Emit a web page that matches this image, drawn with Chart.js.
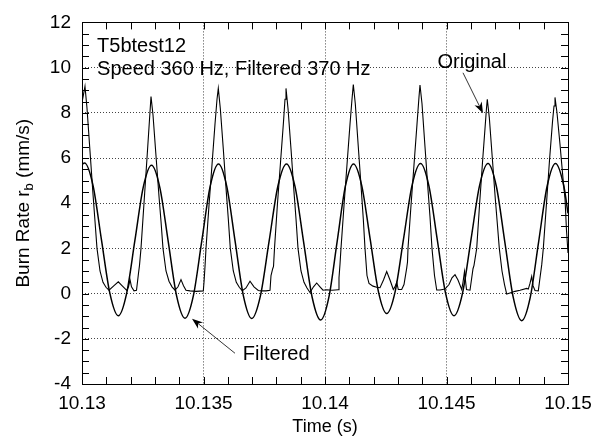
<!DOCTYPE html>
<html>
<head>
<meta charset="utf-8">
<script src="https://cdn.jsdelivr.net/npm/chart.js@4.4.1/dist/chart.umd.min.js"></script>
<style>
  html, body { margin: 0; padding: 0; background: #fff; }
  #wrap { width: 603px; height: 439px; }
</style>
</head>
<body>
<div id="wrap"><canvas id="chartBurn" width="603" height="439"></canvas></div>
<script>
// time (s) and burn rate (mm/s)
const origT = [
  10.130000, 10.130123, 10.130206, 10.130329, 10.130453, 10.130535, 10.130617, 10.130741, 10.130864, 10.130988,
  10.131111, 10.131317, 10.131494, 10.131646, 10.131840, 10.131914, 10.131975, 10.132037, 10.132140, 10.132243,
  10.132325, 10.132366, 10.132428, 10.132551, 10.132675, 10.132778, 10.132840, 10.132922, 10.133045, 10.133169,
  10.133251, 10.133333, 10.133457, 10.133580, 10.133704, 10.133827, 10.133951, 10.134074, 10.134177, 10.134280,
  10.134444, 10.134691, 10.134992, 10.135021, 10.135062, 10.135103, 10.135226, 10.135350, 10.135473, 10.135556,
  10.135609, 10.135691, 10.135815, 10.135938, 10.136021, 10.136103, 10.136226, 10.136350, 10.136473, 10.136597,
  10.136749, 10.136914, 10.137078, 10.137255, 10.137407, 10.137572, 10.137737, 10.137778, 10.137848, 10.137881,
  10.137922, 10.138045, 10.138169, 10.138292, 10.138354, 10.138395, 10.138477, 10.138601, 10.138724, 10.138807,
  10.138889, 10.139012, 10.139136, 10.139259, 10.139383, 10.139527, 10.139658, 10.139794, 10.139918, 10.140070,
  10.140288, 10.140547, 10.140576, 10.140617, 10.140658, 10.140782, 10.140905, 10.141029, 10.141111, 10.141165,
  10.141247, 10.141370, 10.141494, 10.141576, 10.141646, 10.141728, 10.141811, 10.141975, 10.142128, 10.142263,
  10.142407, 10.142539, 10.142675, 10.142811, 10.142881, 10.142951, 10.143016, 10.143156, 10.143251, 10.143362,
  10.143395, 10.143416, 10.143539, 10.143663, 10.143786, 10.143868, 10.143909, 10.143992, 10.144115, 10.144239,
  10.144321, 10.144403, 10.144506, 10.144597, 10.144733, 10.144938, 10.145103, 10.145226, 10.145350, 10.145473,
  10.145626, 10.145679, 10.145741, 10.145823, 10.145967, 10.146091, 10.146132, 10.146243, 10.146358, 10.146481,
  10.146584, 10.146646, 10.146679, 10.146761, 10.146885, 10.147008, 10.147091, 10.147173, 10.147284, 10.147387,
  10.147477, 10.147613, 10.147819, 10.148025, 10.148300, 10.148366, 10.148436, 10.148506, 10.148560, 10.148642,
  10.148778, 10.148848, 10.148918, 10.148984, 10.149115, 10.149239, 10.149362, 10.149424, 10.149465, 10.149547,
  10.149671, 10.149794, 10.149877, 10.149938, 10.150000
];
const origV = [
  8.45, 9.17, 8.2, 6.3, 4.4, 3.2, 2.0, 1.0, 0.5, 0.28,
  0.15, 0.35, 0.52, 0.35, 0.14, 0.3, 0.62, 0.3, 0.12, 0.15,
  0.9, 1.25, 2.0, 4.0, 6.0, 7.7, 8.72, 7.9, 6.1, 4.3,
  3.2, 2.0, 1.0, 0.55, 0.3, 0.15, 0.3, 0.62, 0.35, 0.15,
  0.12, 0.1, 0.12, 0.5, 1.2, 2.0, 3.9, 5.7, 7.5, 8.6,
  9.08, 8.2, 6.4, 4.5, 3.3, 2.0, 1.0, 0.5, 0.28, 0.13,
  0.25, 0.55, 0.3, 0.14, 0.12, 0.12, 0.15, 0.8, 1.1, 1.2,
  2.0, 4.0, 5.8, 7.6, 8.6, 9.08, 8.2, 6.4, 4.5, 3.3,
  2.0, 1.0, 0.5, 0.25, 0.05, 0.3, 0.47, 0.3, 0.15, 0.17,
  0.15, 0.17, 0.7, 1.3, 2.0, 3.9, 5.7, 7.5, 8.6, 9.25,
  8.4, 6.5, 4.6, 3.3, 2.0, 0.8, 0.45, 0.33, 0.28, 0.26,
  0.6, 0.98, 0.6, 0.18, 0.3, 0.5, 0.18, 0.18, 0.4, 1.13,
  1.4, 2.0, 3.9, 5.7, 7.5, 8.7, 9.23, 8.4, 6.5, 4.6,
  3.4, 2.0, 0.8, 0.16, 0.16, 0.2, 0.4, 0.7, 0.84, 0.6,
  0.18, 0.5, 0.98, 0.18, 0.15, 1.1, 1.25, 2.0, 3.9, 5.8,
  7.3, 8.2, 8.6, 7.8, 6.0, 4.2, 3.1, 2.0, 1.0, 0.4,
  -0.02, 0.03, 0.1, 0.15, 0.23, 0.2, 0.45, 0.76, 0.35, 0.14,
  0.12, 0.7, 1.27, 2.0, 4.0, 5.9, 7.6, 8.3, 8.68, 8.0,
  6.6, 5.1, 4.2, 2.8, 1.8
];

const filtT = [
  10.130000, 10.130103, 10.130453, 10.130798, 10.131148, 10.131494, 10.131835, 10.132177, 10.132519, 10.132860,
  10.133206, 10.133549, 10.133893, 10.134239, 10.134584, 10.134928, 10.135272, 10.135617, 10.135959, 10.136300,
  10.136642, 10.136984, 10.137342, 10.137700, 10.138058, 10.138416, 10.138767, 10.139119, 10.139471, 10.139823,
  10.140160, 10.140498, 10.140835, 10.141173, 10.141514, 10.141856, 10.142198, 10.142539, 10.142887, 10.143235,
  10.143582, 10.143930, 10.144276, 10.144620, 10.144963, 10.145309, 10.145658, 10.146008, 10.146358, 10.146708,
  10.147053, 10.147401, 10.147749, 10.148095, 10.148444, 10.148790, 10.149138, 10.149486, 10.149831, 10.150000
];
const filtV = [
  5.72, 5.78, 4.79, 2.40, 0.01, -0.98, 0.00, 2.35, 4.70, 5.68,
  4.68, 2.30, -0.10, -1.09, -0.09, 2.32, 4.73, 5.73, 4.73, 2.32,
  -0.10, -1.10, -0.10, 2.32, 4.74, 5.74, 4.73, 2.29, -0.16, -1.17,
  -0.16, 2.29, 4.73, 5.74, 4.77, 2.43, 0.09, -0.88, 0.09, 2.44,
  4.79, 5.76, 4.77, 2.39, 0.01, -0.98, 0.01, 2.39, 4.77, 5.76,
  4.74, 2.28, -0.18, -1.20, -0.18, 2.28, 4.74, 5.76, 4.74, 3.55
];

const xRange = [10.13, 10.15];
const yRange = [-4, 12];
const xMinorStep = 0.001;
const yMinorStep = 0.5;

// text labels, positioned in data units
const notes = [
  { text: 'T5btest12', x: 10.13062, y: 10.69 },
  { text: 'Speed 360 Hz, Filtered 370 Hz', x: 10.13062, y: 9.67 },
  { text: 'Original', x: 10.14463, y: 10.0 },
  { text: 'Filtered', x: 10.13662, y: -2.95 }
];
const arrows = [
  { from: [10.145679, 9.77], to: [10.146502, 7.98] },
  { from: [10.136296, -2.64], to: [10.134527, -1.11] }
];

const FONT = '"Liberation Sans", Arial, Helvetica, sans-serif';

const extras = {
  id: 'extras',
  afterDraw(chart) {
    const { ctx, chartArea: a, scales: { x, y } } = chart;
    ctx.save();
    ctx.strokeStyle = '#000';
    ctx.lineWidth = 1;
    ctx.setLineDash([]);

    // frame
    ctx.strokeRect(Math.round(a.left) + 0.5, Math.round(a.top) + 0.5,
      Math.round(a.right - a.left), Math.round(a.bottom - a.top));

    // inward ticks on all four sides
    ctx.beginPath();
    const nx = Math.round((xRange[1] - xRange[0]) / xMinorStep);
    for (let i = 0; i <= nx; i++) {
      const px = Math.round(x.getPixelForValue(xRange[0] + i * xMinorStep)) + 0.5;
      ctx.moveTo(px, a.top); ctx.lineTo(px, a.top + 7);
      ctx.moveTo(px, a.bottom); ctx.lineTo(px, a.bottom - 7);
    }
    const ny = Math.round((yRange[1] - yRange[0]) / yMinorStep);
    for (let i = 0; i <= ny; i++) {
      const py = Math.round(y.getPixelForValue(yRange[0] + i * yMinorStep)) + 0.5;
      ctx.moveTo(a.left, py); ctx.lineTo(a.left + 7, py);
      ctx.moveTo(a.right, py); ctx.lineTo(a.right - 7, py);
    }
    ctx.stroke();

    // annotations
    ctx.fillStyle = '#000';
    ctx.font = '20px ' + FONT;
    ctx.textAlign = 'left';
    ctx.textBaseline = 'alphabetic';
    notes.forEach(n => ctx.fillText(n.text, x.getPixelForValue(n.x), y.getPixelForValue(n.y)));

    arrows.forEach(ar => {
      const x1 = x.getPixelForValue(ar.from[0]), y1 = y.getPixelForValue(ar.from[1]);
      const x2 = x.getPixelForValue(ar.to[0]), y2 = y.getPixelForValue(ar.to[1]);
      const ang = Math.atan2(y2 - y1, x2 - x1);
      const len = 11, half = 4;
      ctx.beginPath();
      ctx.moveTo(x1, y1);
      ctx.lineTo(x2 - Math.cos(ang) * len * 0.7, y2 - Math.sin(ang) * len * 0.7);
      ctx.lineWidth = 0.8;
      ctx.stroke();
      ctx.beginPath();
      ctx.moveTo(x2, y2);
      ctx.lineTo(x2 - Math.cos(ang) * len - Math.sin(ang) * half, y2 - Math.sin(ang) * len + Math.cos(ang) * half);
      ctx.lineTo(x2 - Math.cos(ang) * len * 0.7, y2 - Math.sin(ang) * len * 0.7);
      ctx.lineTo(x2 - Math.cos(ang) * len + Math.sin(ang) * half, y2 - Math.sin(ang) * len - Math.cos(ang) * half);
      ctx.closePath();
      ctx.fill();
    });

    // y axis title with subscript b
    ctx.translate(29, (a.top + a.bottom) / 2);
    ctx.rotate(-Math.PI / 2);
    const big = '19px ' + FONT, small = '13px ' + FONT;
    const p1 = 'Burn Rate r', p2 = 'b', p3 = ' (mm/s)';
    ctx.font = big;
    const w1 = ctx.measureText(p1).width, w3 = ctx.measureText(p3).width;
    ctx.font = small;
    const w2 = ctx.measureText(p2).width;
    let x0 = -(w1 + w2 + w3) / 2;
    ctx.font = big; ctx.fillText(p1, x0, 0);
    ctx.font = small; ctx.fillText(p2, x0 + w1, 4);
    ctx.font = big; ctx.fillText(p3, x0 + w1 + w2, 0);
    ctx.restore();
  }
};

const chartBurn = document.getElementById('chartBurn');

new Chart(chartBurn, {
  type: 'line',
  data: {
    datasets: [{
      label: 'Original',
      data: origT.map((t, i) => ({ x: t, y: origV[i] })),
      borderColor: '#000',
      borderWidth: 1.1,
      pointRadius: 0,
      tension: 0
    }, {
      label: 'Filtered',
      data: filtT.map((t, i) => ({ x: t, y: filtV[i] })),
      borderColor: '#000',
      borderWidth: 1.5,
      pointRadius: 0,
      cubicInterpolationMode: 'monotone'
    }]
  },
  options: {
    responsive: false,
    animation: false,
    devicePixelRatio: 1,
    layout: { padding: { top: 18, right: 35, left: 0, bottom: 0 } },
    plugins: { legend: { display: false }, tooltip: { enabled: false } },
    scales: {
      x: {
        type: 'linear',
        min: xRange[0],
        max: xRange[1],
        afterFit: s => { s.height = 55; },
        ticks: {
          stepSize: 0.005,
          color: '#000',
          padding: 8,
          font: { family: FONT, size: 19 },
          maxRotation: 0,
          callback: v => String(Number(v.toFixed(3)))
        },
        grid: { color: '#444', drawTicks: false, lineWidth: 1 },
        border: { display: false, dash: [1, 2] },
        title: {
          display: true,
          text: 'Time (s)',
          color: '#000',
          font: { family: FONT, size: 18 },
          padding: { top: 0, bottom: 1 }
        }
      },
      y: {
        min: yRange[0],
        max: yRange[1],
        afterFit: s => { s.width = 82; },
        ticks: {
          stepSize: 2,
          color: '#000',
          padding: 11,
          font: { family: FONT, size: 19 }
        },
        grid: { color: '#444', drawTicks: false, lineWidth: 1 },
        border: { display: false, dash: [1, 2] }
      }
    }
  },
  plugins: [extras]
});
</script>
</body>
</html>
